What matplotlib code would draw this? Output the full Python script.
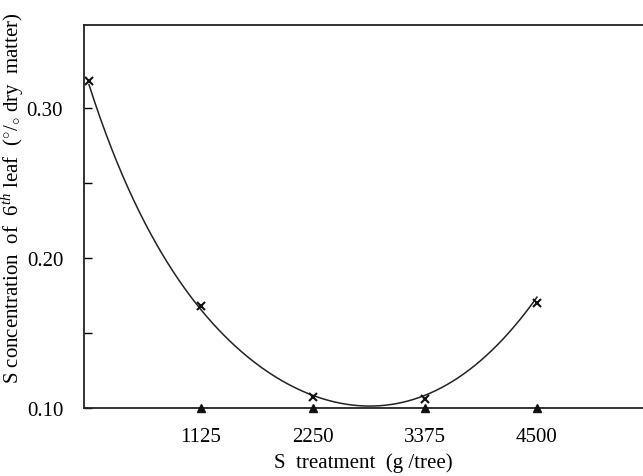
import numpy as np
import matplotlib
matplotlib.use("Agg")
import matplotlib.pyplot as plt

# S treatment (g/tree) and leaf S concentration (% dry matter)
s_treatment = [0, 1125, 2250, 3375, 4500]
s_conc = [0.318, 0.168, 0.107, 0.106, 0.170]
# response curve
curve_x = [0, 211, 412, 713, 1125, 1918, 2250, 2883, 3375, 3526, 3857, 4199, 4500]
curve_y = [0.318, 0.274, 0.238, 0.208, 0.168, 0.120, 0.107, 0.100, 0.106,
           0.113, 0.129, 0.154, 0.170]
x_ticks = [1125, 2250, 3375, 4500]
y_ticks = [0.10, 0.20, 0.30]
y_minor = [0.15, 0.25]


def basis(x):
    x = np.asarray(x, float) / 1000
    return np.column_stack([np.ones_like(x), x, x**2, x**3, np.exp(-x)])


# least squares smooth curve through the traced points
coef, *_ = np.linalg.lstsq(basis(curve_x), np.asarray(curve_y), rcond=None)

plt.rcParams['font.family'] = ['Liberation Serif', 'DejaVu Serif']
plt.rcParams['mathtext.fontset'] = 'custom'
plt.rcParams['mathtext.rm'] = 'Liberation Serif'
plt.rcParams['mathtext.it'] = 'Liberation Serif:italic'

fig = plt.figure(figsize=(6.43, 4.77), dpi=100)
ax = fig.add_axes([84 / 643, 68 / 477, 1 - 84 / 643, 383 / 477])

xs = np.linspace(min(curve_x), max(curve_x), 400)
ax.plot(xs, basis(xs) @ coef, color='#222222', lw=1.1)
ax.plot(s_treatment, s_conc, 'x', color='#111111', ms=6, mew=1.5)

# triangles on the x axis
ax.plot(x_ticks, [y_ticks[0]] * len(x_ticks), '^', color='#111111', ms=6,
        clip_on=False, zorder=5)

ax.set_xlim(-50, 5565)
ax.set_ylim(0.10, 0.355)
ax.set_xticks(x_ticks)
ax.set_xticklabels([str(v) for v in x_ticks])
ax.set_yticks(y_ticks)
ax.set_yticklabels(['%.2f' % v for v in y_ticks])
ax.set_yticks(y_minor, minor=True)
ax.tick_params(axis='x', length=0, pad=14, labelsize=15)
ax.tick_params(axis='y', which='both', direction='in', length=6, width=1,
               pad=15, labelsize=15)

for s in ['left', 'bottom', 'top']:
    ax.spines[s].set_linewidth(1.3)
    ax.spines[s].set_color('#222222')
ax.spines['right'].set_visible(False)

ax.set_xlabel('S  treatment  (g /tree)', fontsize=15, labelpad=4)
ax.set_ylabel(r'S concentration  of  6$^{th}$ leaf  ($^{\circ}$/$_{\circ}$ dry  matter)',
              fontsize=15)
ax.yaxis.set_label_coords(-58 / 559, 0.55)

fig.savefig('out.png', dpi=100)
